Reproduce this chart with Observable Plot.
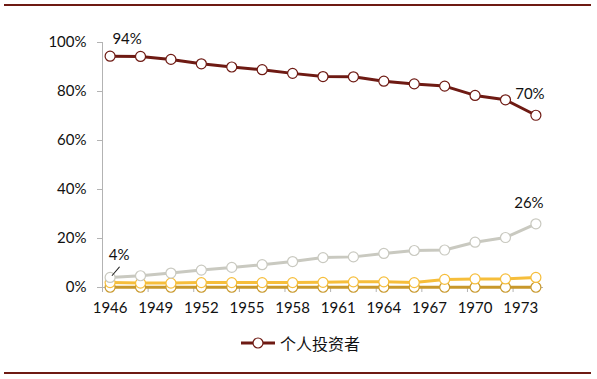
<!DOCTYPE html>
<html>
<head>
<meta charset="utf-8">
<script src="https://cdn.jsdelivr.net/npm/d3@7"></script>
<script src="https://cdn.jsdelivr.net/npm/@observablehq/plot@0.6"></script>
<style>
  html, body { margin: 0; padding: 0; background: #fff; }
  #wrap { position: relative; width: 597px; height: 379px; overflow: hidden; font-family: Lato, sans-serif; }
  .frame { position: absolute; left: 4px; width: 587px; height: 2px; background: #6E1A13; }
  #legend { position: absolute; top: 331px; left: 240px; display: flex; align-items: center; font-family: "Noto Sans CJK SC", sans-serif; font-size: 16px; color: #111; }
  #chart { position: absolute; top: 0; left: 0; }
</style>
</head>
<body>
<div id="wrap">
  <div class="frame" style="top:4px"></div>
  <div id="chart"></div>
  <div id="legend"></div>
  <div class="frame" style="top:372px"></div>
</div>
<script>
const years = [1946,1948,1950,1952,1954,1956,1958,1960,1962,1964,1966,1968,1970,1972,1974];
const individual = [94.4,94.3,93.1,91.3,90.0,88.9,87.4,86.1,86.0,84.2,83.1,82.2,78.4,76.6,70.3];
const institutional = [4.1,4.8,5.9,7.1,8.2,9.3,10.6,12.2,12.5,13.9,15.1,15.3,18.5,20.4,26.0];
const seriesC = [2.0,1.8,1.8,2.0,2.0,2.0,2.0,2.1,2.3,2.3,2.0,3.3,3.5,3.5,4.1];
const seriesD = [0.1,0.1,0.1,0.1,0.1,0.1,0.1,0.1,0.1,0.1,0.1,0.1,0.1,0.1,0.1];
const xTickLabels = [1946,1949,1952,1955,1958,1961,1964,1967,1970,1973];
const yTicks = [0,20,40,60,80,100];
const legendLabel = "个人投资者";

const series = [
  {key: "seriesD", values: seriesD, color: "#C8982B"},
  {key: "seriesC", values: seriesC, color: "#F6BE3B"},
  {key: "institutional", values: institutional, color: "#C9C9C0"},
  {key: "individual", values: individual, color: "#6E1A13"}
];

const rowsOf = s => years.map((y, i) => ({year: y, value: s.values[i] / 100}));
const boundaries = xTickLabels.map(y => y - 0.5);
const first = i => ({year: years[0], value: i[0] / 100, text: Math.round(i[0]) + "%"});
const last = i => ({year: years[years.length - 1], value: i[i.length - 1] / 100, text: Math.round(i[i.length - 1]) + "%"});

const FS = 15;
const marks = [
  Plot.ruleX([years[0] - 0.5], {stroke: "#B3B3B3", strokeWidth: 1}),
  Plot.ruleY([0], {stroke: "#B3B3B3", strokeWidth: 1}),
  Plot.axisY({ticks: yTicks.map(d => d / 100), label: null, tickSize: 5, tickPadding: 11, tickFormat: d => Math.round(d * 100) + "%", stroke: "#B3B3B3", fill: "#111", fontSize: FS}),
  Plot.axisX({ticks: boundaries, label: null, tickSize: 5, tickFormat: () => "", stroke: "#B3B3B3"}),
  Plot.axisX({ticks: xTickLabels, label: null, tickSize: 0, tickPadding: 15, tickFormat: d => String(d), fill: "#111", fontSize: FS})
];
for (const s of series) {
  marks.push(Plot.line(rowsOf(s), {x: "year", y: "value", stroke: s.color, strokeWidth: 3}));
  marks.push(Plot.dot(rowsOf(s), {x: "year", y: "value", r: 5, fill: "white", stroke: s.color, strokeWidth: 1.2}));
}
marks.push(Plot.text([first(individual)], {x: "year", y: "value", text: "text", dx: 17, dy: -17, fontSize: FS, fill: "#111"}));
marks.push(Plot.text([last(individual)], {x: "year", y: "value", text: "text", dx: -6, dy: -21, fontSize: FS, fill: "#111"}));
marks.push(Plot.text([last(institutional)], {x: "year", y: "value", text: "text", dx: -7, dy: -21, fontSize: FS, fill: "#111"}));
marks.push(Plot.text([first(institutional)], {x: "year", y: "value", text: "text", dx: 9, dy: -22, fontSize: FS, fill: "#111"}));
marks.push(Plot.vector([first(institutional)], {x: "year", y: "value", length: 11, rotate: 41, anchor: "start", dx: 2, dy: -2, stroke: "#222", strokeWidth: 1,
  shape: {draw(ctx, l) { ctx.moveTo(0, 0); ctx.lineTo(0, -l); }}}));

const chart = Plot.plot({
  width: 597,
  height: 320,
  marginTop: 42,
  marginBottom: 33,
  marginLeft: 102,
  marginRight: 54,
  style: {fontFamily: "Lato, sans-serif", fontSize: FS + "px", color: "#111", background: "transparent"},
  x: {domain: [years[0] - 0.5, years[years.length - 1] + 0.5], axis: null},
  y: {domain: [0, 1], axis: null},
  marks
});
document.getElementById("chart").appendChild(chart);

const ind = series.find(s => s.key === "individual");
document.getElementById("legend").innerHTML =
  `<svg width="36" height="22" style="margin-right:4px"><line x1="1" x2="35" y1="11" y2="11" stroke="${ind.color}" stroke-width="3"/><circle cx="18" cy="11" r="5" fill="white" stroke="${ind.color}" stroke-width="1.2"/></svg><span>${legendLabel}</span>`;
</script>
</body>
</html>
